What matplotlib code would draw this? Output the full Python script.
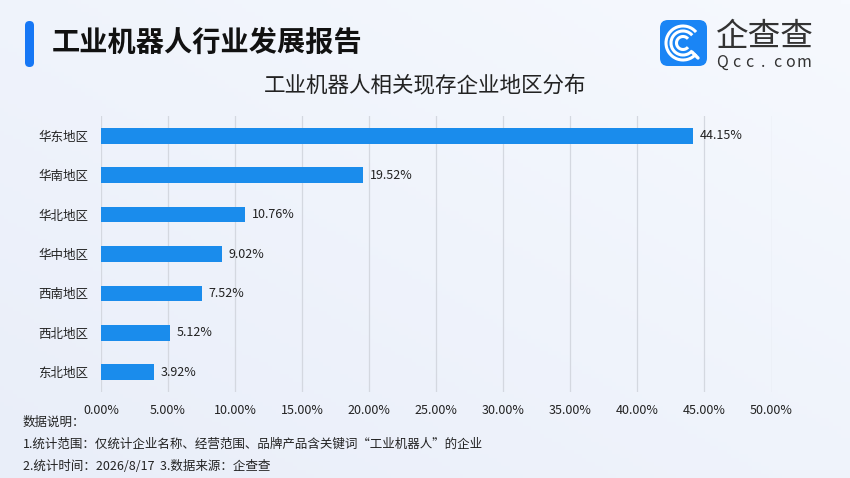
import matplotlib
matplotlib.use('Agg')
import matplotlib.pyplot as plt
import numpy as np
from matplotlib.patches import FancyBboxPatch, Arc
from matplotlib.colors import LinearSegmentedColormap

plt.rcParams['font.family'] = ['Noto Sans CJK SC', 'DejaVu Sans']

# Data
regions = ['华东地区', '华南地区', '华北地区', '华中地区', '西南地区', '西北地区', '东北地区']
shares = [44.15, 19.52, 10.76, 9.02, 7.52, 5.12, 3.92]
x_ticks = [0, 5, 10, 15, 20, 25, 30, 35, 40, 45, 50]

title = '工业机器人行业发展报告'
subtitle = '工业机器人相关现存企业地区分布'
notes = ['数据说明：',
         '1.统计范围：仅统计企业名称、经营范围、品牌产品含关键词“工业机器人”的企业',
         '2.统计时间：2026/8/17  3.数据来源：企查查']

W, H = 850, 478
BAR_COLOR = '#1a8cec'

fig = plt.figure(figsize=(W / 100, H / 100), dpi=100)

# background gradient
bg = fig.add_axes([0, 0, 1, 1], zorder=-10)
gx = np.linspace(0, 1, 200)
gy = np.linspace(0, 1, 120)
GX, GY = np.meshgrid(gx, gy)
grad = 0.5 * GX + 0.5 * (1 - GY)
cmap = LinearSegmentedColormap.from_list('bg', ['#e9eef9', '#f6f9fe'])
bg.imshow(grad, cmap=cmap, aspect='auto', extent=[0, W, H, 0])
bg.set_xlim(0, W)
bg.set_ylim(H, 0)
bg.axis('off')

# header accent + title
bg.add_patch(FancyBboxPatch((25, 21), 9, 46, boxstyle='round,pad=0,rounding_size=4.5',
                            fc='#1677f5', ec='none'))
bg.text(52, 43, title, fontsize=20.3, fontweight='bold', color='#111111', va='center', ha='left')
bg.text(425, 85, subtitle, fontsize=15.5, color='#222222', va='center', ha='center')

# logo
bg.add_patch(FancyBboxPatch((660, 20), 47, 46, boxstyle='round,pad=0,rounding_size=8',
                            fc='#1a85f5', ec='none'))
cx, cy = 683, 43
for r in [34, 24, 13]:
    bg.add_patch(Arc((cx, cy), r, r, theta1=40, theta2=320, color='white', lw=2.2))
bg.plot([cx + 9, cx + 15], [cy + 9, cy + 15], color='white', lw=2.4, solid_capstyle='round')
bg.text(716, 37, '企查查', fontsize=23.5, color='#333333', va='center', ha='left')
for i, ch in enumerate('Qcc.com'):
    bg.text(722 + i * 13.7, 62, ch, fontsize=11.5, color='#333333', va='center', ha='center')

# notes
for i, line in enumerate(notes):
    bg.text(23, 422 + i * 22.5, line, fontsize=9, color='#222222', va='center', ha='left')

# main chart
ax = fig.add_axes([101 / W, 1 - 392 / H, (771.5 - 101) / W, (392 - 116) / H])
ax.set_facecolor('none')
y = np.arange(len(regions))
ax.barh(y, shares, height=0.4, color=BAR_COLOR, zorder=3)
for yi, v in zip(y, shares):
    ax.text(v + 0.5, yi, f'{v:.2f}%', fontsize=9, color='#222222', va='center', ha='left')

ax.set_xlim(0, 50)
ax.set_ylim(len(regions) - 0.5, -0.5)
ax.set_yticks(y)
ax.set_yticklabels(regions, fontsize=9, color='#222222')
ax.set_xticks(x_ticks)
ax.set_xticklabels([f'{t:.2f}%' for t in x_ticks], fontsize=9, color='#222222')
ax.tick_params(axis='both', length=0)
ax.tick_params(axis='x', pad=9)
ax.tick_params(axis='y', pad=9)
ax.grid(axis='x', color='#d4d8e0', lw=0.9, zorder=0)
for s in ax.spines.values():
    s.set_visible(False)

fig.savefig('out.png', dpi=100)
